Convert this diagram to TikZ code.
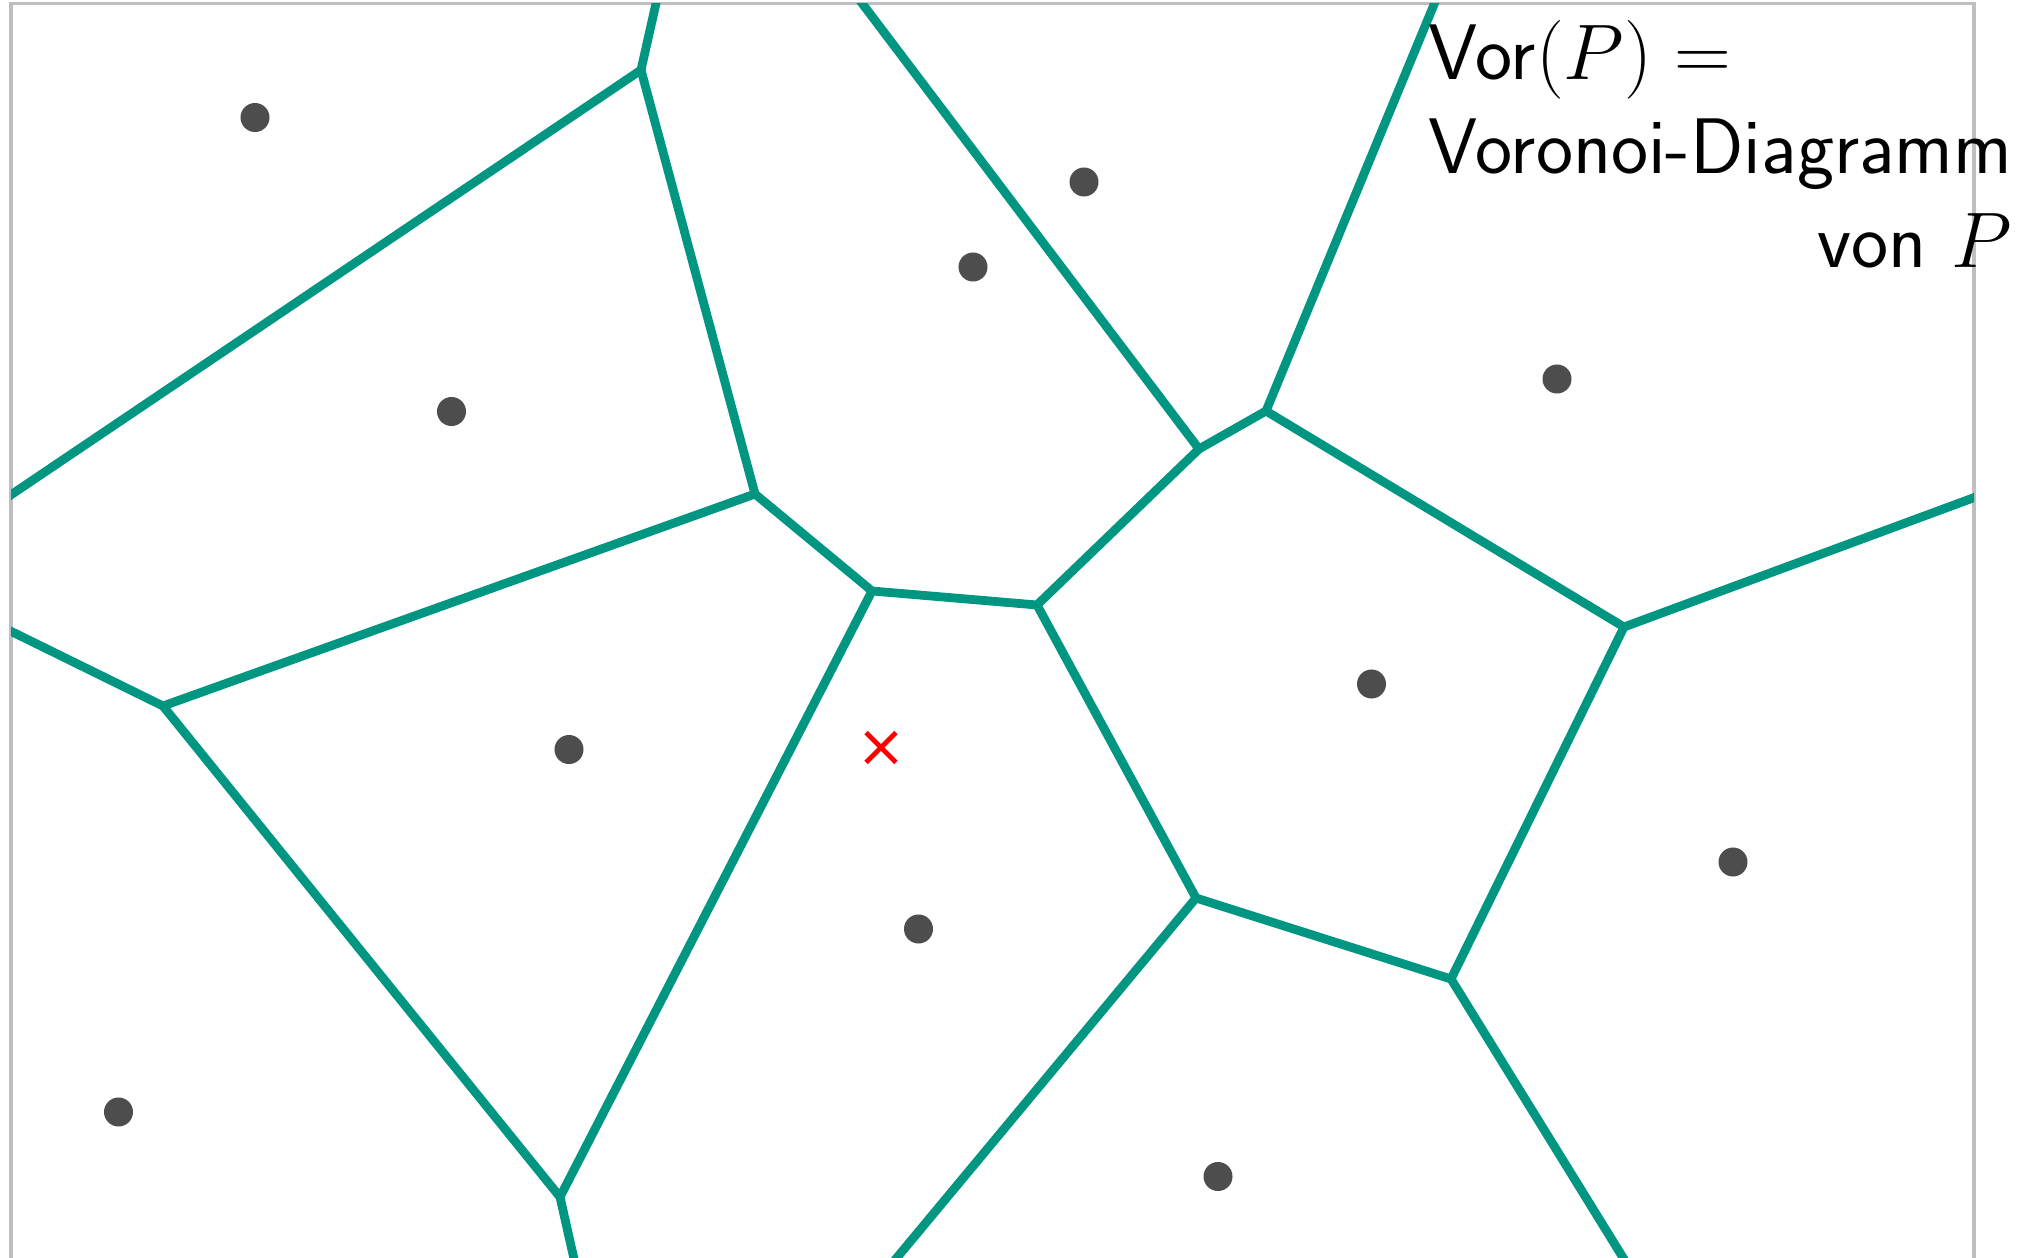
\RequirePackage{fix-cm}
\documentclass[tikz,border=0pt]{standalone}
\usetikzlibrary{shapes.misc}
\definecolor{vorgreen}{RGB}{0,150,130}
\definecolor{sitegray}{RGB}{77,77,77}
\definecolor{framegray}{RGB}{191,191,191}
\begin{document}
\begin{tikzpicture}[x=0.01cm,y=-0.01cm,
  vedge/.style={draw=vorgreen,line width=2.5pt,line join=miter},
  site/.style={circle,fill=sitegray,inner sep=0pt,minimum size=0.29cm},
  framebox/.style={draw=framegray,line width=0.9pt},
  query/.style={cross out,draw=red,line width=1.4pt,inner sep=0pt,minimum size=0.25cm}]
\useasboundingbox (0,0) rectangle (2023,1258);
\draw[framebox] (11,3.5) rectangle (1974,1400);
\begin{scope}
\clip (11,3.5) rectangle (1974,1400);
% vertices
\coordinate (A) at (641,70);
\coordinate (B) at (755,494);
\coordinate (C) at (163,706);
\coordinate (E) at (560,1197);
\coordinate (D) at (872,591);
\coordinate (F) at (1037,605);
\coordinate (G) at (1199,449);
\coordinate (I) at (1266,411);
\coordinate (J) at (1624,627);
\coordinate (K) at (1451,979);
\coordinate (H) at (1196,898);
% free ends
\coordinate (t1) at (659,-10);
\coordinate (l1) at (-10,509);
\coordinate (l2) at (-10,621);
\coordinate (b1) at (581,1290);
\coordinate (t2) at (852,-10);
\coordinate (t3) at (1440,-10);
\coordinate (r1) at (2000,488);
\coordinate (b2) at (870,1290);
\coordinate (b3) at (1643,1290);
% edges
\draw[vedge] (t1) -- (A) -- (l1);
\draw[vedge] (A) -- (B) -- (C) -- (l2);
\draw[vedge] (B) -- (D) -- (F) -- (G) -- (t2);
\draw[vedge] (C) -- (E) -- (b1);
\draw[vedge] (E) -- (D);
\draw[vedge] (G) -- (I) -- (t3);
\draw[vedge] (I) -- (J) -- (r1);
\draw[vedge] (J) -- (K) -- (b3);
\draw[vedge] (F) -- (H) -- (b2);
\draw[vedge] (H) -- (K);
\end{scope}
% sites
\node[site] (s1) at (255,117.5) {};
\node[site] (s2) at (451.5,411.5) {};
\node[site] (s3) at (973,267) {};
\node[site] (s4) at (1084,182) {};
\node[site] (s5) at (1557,379) {};
\node[site] (s6) at (569,749.5) {};
\node[site] (s7) at (1371.5,684) {};
\node[site] (s8) at (918.5,929) {};
\node[site] (s9) at (1733,862) {};
\node[site] (s10) at (118.5,1112) {};
\node[site] (s11) at (1218,1176.5) {};
\node[query] (q) at (881,747.5) {};
% label
\node[anchor=base west,inner sep=0pt,font=\fontsize{22.4}{26.6}\selectfont\sffamily] (label) at (1428,80)
  {\begin{tabular}[t]{@{}l@{}}Vor$(P) =$\\ Voronoi-Diagramm\\ \multicolumn{1}{@{}r@{}}{von $P$}\end{tabular}};
\end{tikzpicture}
\end{document}
